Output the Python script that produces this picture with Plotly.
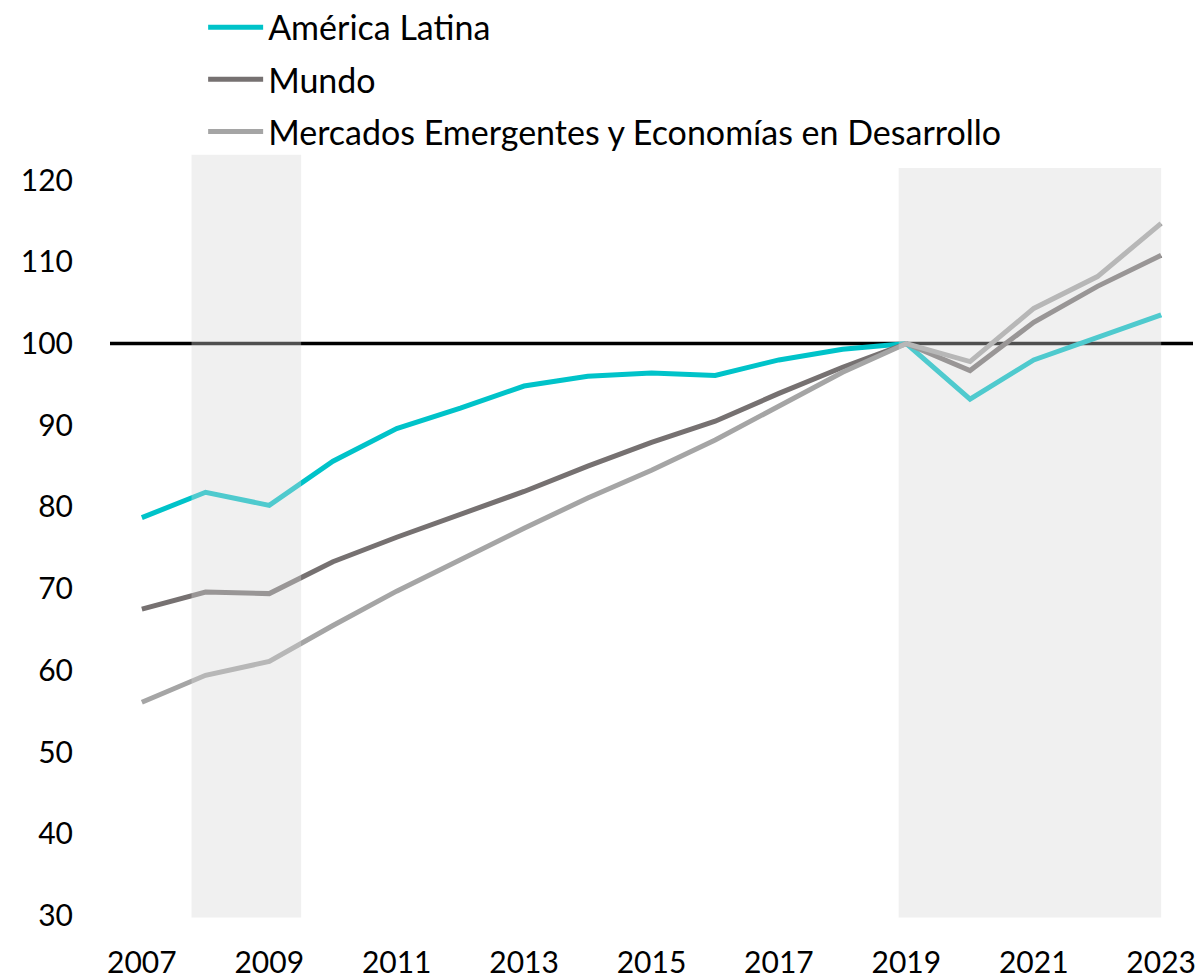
import plotly.graph_objects as go

years = list(range(2007, 2024))
america_latina = [78.7, 81.8, 80.2, 85.6, 89.6, 92.1, 94.8, 96.0, 96.4, 96.1, 98.0, 99.3, 100.0, 93.2, 98.0, 100.8, 103.5]
mundo = [67.5, 69.6, 69.4, 73.3, 76.3, 79.1, 81.9, 85.0, 87.9, 90.5, 93.9, 97.1, 100.0, 96.7, 102.6, 107.0, 110.8]
emde = [56.1, 59.4, 61.1, 65.5, 69.7, 73.6, 77.4, 81.1, 84.5, 88.2, 92.4, 96.5, 100.0, 97.8, 104.3, 108.2, 114.7]

series_names = ["América Latina", "Mundo", "Mercados Emergentes y Economías en Desarrollo"]
series_values = [america_latina, mundo, emde]
series_colors = ["#00C3C9", "#767171", "#A5A5A5"]

# Shaded periods (x start, x end, top value)
bands = [(2007.78, 2009.5, 123.1), (2018.88, 2023.0, 121.5)]
tick_years = list(range(2007, 2024, 2))
y_ticks = list(range(30, 130, 10))

FONT = "Lato, 'Open Sans', sans-serif"

fig = go.Figure()
for i, (name, vals, col) in enumerate(zip(series_names, series_values, series_colors)):
    fig.add_trace(go.Scatter(
        x=years, y=vals, mode="lines", name=name,
        line=dict(color=col, width=5), legendgroup=f"g{i}",
    ))

# Reference line at 100
fig.add_shape(type="line", xref="paper", yref="y", x0=0, x1=1, y0=100, y1=100,
              line=dict(color="#000000", width=3.5), layer="below")

for x0, x1, top in bands:
    fig.add_shape(type="rect", xref="x", yref="y", x0=x0, x1=x1, y0=29.75, y1=top,
                  fillcolor="rgba(214,214,214,0.37)", line=dict(width=0), layer="above")

fig.update_layout(
    width=1203, height=978,
    margin=dict(l=102, r=18, t=146, b=68, autoexpand=False),
    paper_bgcolor="white", plot_bgcolor="white",
    font=dict(family=FONT, size=30, color="#000000"),
    showlegend=True,
    legend=dict(
        x=0.086, y=1.2035, xanchor="left", yanchor="top",
        font=dict(family=FONT, size=34, color="#000000"),
        traceorder="grouped", tracegroupgap=5,
        bgcolor="rgba(0,0,0,0)", itemwidth=55,
    ),
    xaxis=dict(
        range=[2006.5, 2023.5], tickmode="array", tickvals=tick_years,
        ticktext=[str(y) for y in tick_years],
        showgrid=False, zeroline=False, showline=False, automargin=False,
        ticks="outside", ticklen=18, tickcolor="rgba(0,0,0,0)",
        tickfont=dict(family=FONT, size=30),
    ),
    yaxis=dict(
        range=[29.7, 123.2], tickmode="array", tickvals=y_ticks,
        showgrid=False, zeroline=False, showline=False, automargin=False,
        ticks="outside", ticklen=30, tickcolor="rgba(0,0,0,0)",
        tickfont=dict(family=FONT, size=30),
    ),
)

fig.write_html("out.html")
